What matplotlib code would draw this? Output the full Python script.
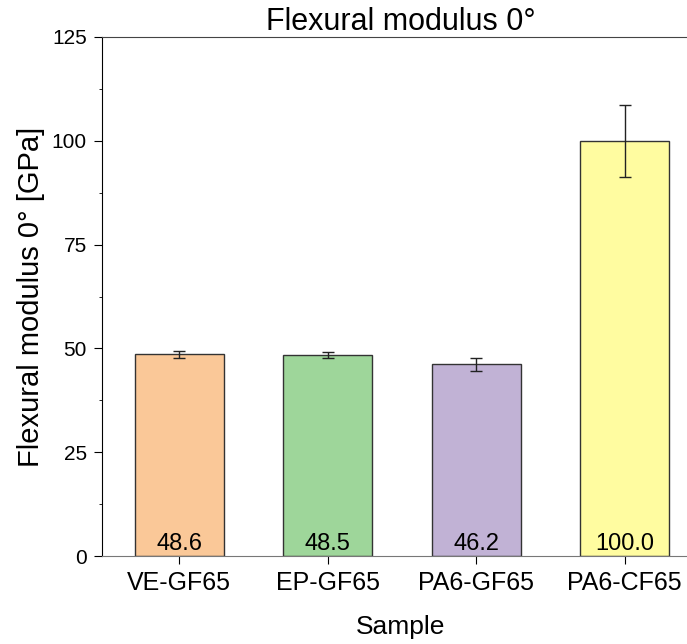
import matplotlib
matplotlib.use('Agg')
import matplotlib.pyplot as plt
import numpy as np
from matplotlib.ticker import MultipleLocator

plt.rcParams['font.family'] = ['Liberation Sans', 'DejaVu Sans']

samples = ['VE-GF65', 'EP-GF65', 'PA6-GF65', 'PA6-CF65']
modulus = [48.6, 48.5, 46.2, 100.0]
modulus_err = [0.8, 0.75, 1.6, 8.6]
colors = ['#FAC898', '#9ED69A', '#C1B2D5', '#FFFCA0']

fig = plt.figure(figsize=(6.87, 6.44), dpi=100)
ax = fig.add_axes([102 / 687, (644 - 556) / 644, 597 / 687, 519 / 644])

x = np.arange(len(samples))
ax.bar(x, modulus, width=0.6, color=colors, edgecolor='#333333', linewidth=1.0, zorder=2)
ax.errorbar(x, modulus, yerr=modulus_err, fmt='none', ecolor='#222222',
            elinewidth=1.0, capsize=4, capthick=1.0, zorder=3)

for xi, v in zip(x, modulus):
    ax.text(xi, 0.3, '%.1f' % v, ha='center', va='bottom', fontsize=17, zorder=4)

ax.set_xlim(-0.52, 3.5)
ax.set_ylim(0, 125)
ax.set_xticks(x)
ax.set_xticklabels(samples)
ax.yaxis.set_major_locator(MultipleLocator(25))
ax.yaxis.set_minor_locator(MultipleLocator(12.5))
ax.tick_params(axis='both', which='major', direction='out', length=6, pad=5)
ax.tick_params(axis='x', labelsize=18)
ax.tick_params(axis='y', labelsize=15)
ax.tick_params(axis='y', which='minor', direction='out', length=2.5)

ax.spines['bottom'].set_color('#777777')
ax.spines['top'].set_color('#444444')
ax.spines['right'].set_visible(False)

ax.set_xlabel('Sample', fontsize=19, labelpad=14)
ax.set_ylabel('Flexural modulus 0° [GPa]', fontsize=21, labelpad=5)
ax.set_title('Flexural modulus 0°', fontsize=22, pad=4)

fig.savefig('out.png', dpi=100)
